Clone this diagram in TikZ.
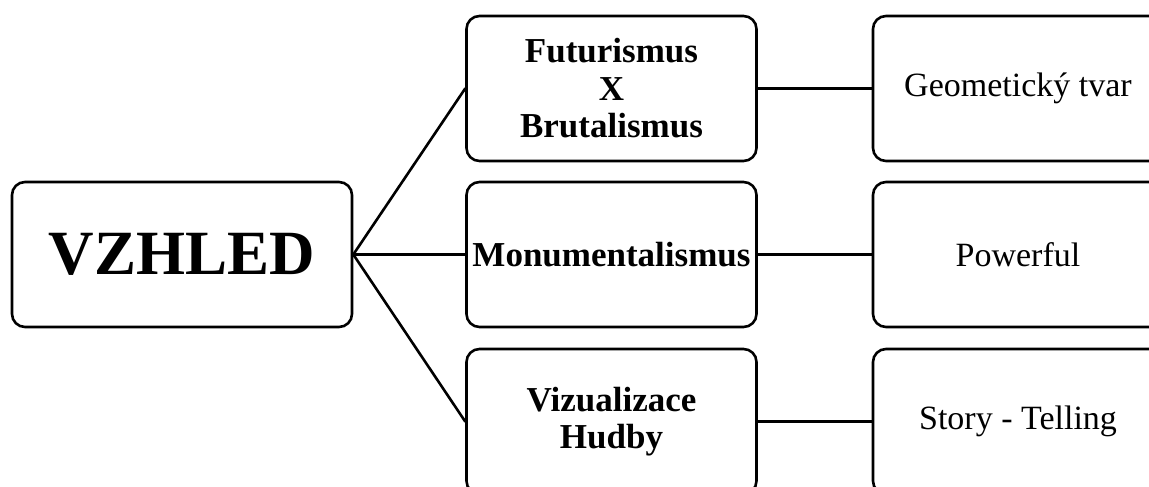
\documentclass[tikz,border=0pt]{standalone}
\usepackage{fontspec}
\setmainfont{Liberation Serif}
\begin{document}
\begin{tikzpicture}[x=1pt,y=-1pt,
  box/.style={draw=black, line width=2.6pt, rounded corners=13pt, minimum width=290pt, minimum height=145pt, inner sep=0pt, align=center, fill=white},
  midtxt/.style={font=\fontsize{35}{37.5}\selectfont\bfseries},
  righttxt/.style={font=\fontsize{34}{38}\selectfont},
  conn/.style={line width=2.6pt, line cap=round}]
\useasboundingbox (0,0) rectangle (1149,487);
\clip (0,0) rectangle (1149,487);
\node[box, minimum width=340pt, font=\fontsize{63}{70}\selectfont\bfseries] (root) at (182,254.5) {VZHLED};
\node[box, midtxt] (m1) at (611.5,88.5) {Futurismus\\X\\Brutalismus};
\node[box, midtxt] (m2) at (611.5,254.5) {Monumentalismus};
\node[box, midtxt] (m3) at (611.5,421.5) {Vizualizace\\Hudby};
\node[box, righttxt] (r1) at (1018,88.5) {Geometický tvar};
\node[box, righttxt] (r2) at (1018,254.5) {Powerful};
\node[box, righttxt] (r3) at (1018,421.5) {Story - Telling};
\draw[conn] (root.east) -- (m1.west);
\draw[conn] (root.east) -- (m2.west);
\draw[conn] (root.east) -- (m3.west);
\draw[conn] (m1.east) -- (r1.west);
\draw[conn] (m2.east) -- (r2.west);
\draw[conn] (m3.east) -- (r3.west);
\end{tikzpicture}
\end{document}
